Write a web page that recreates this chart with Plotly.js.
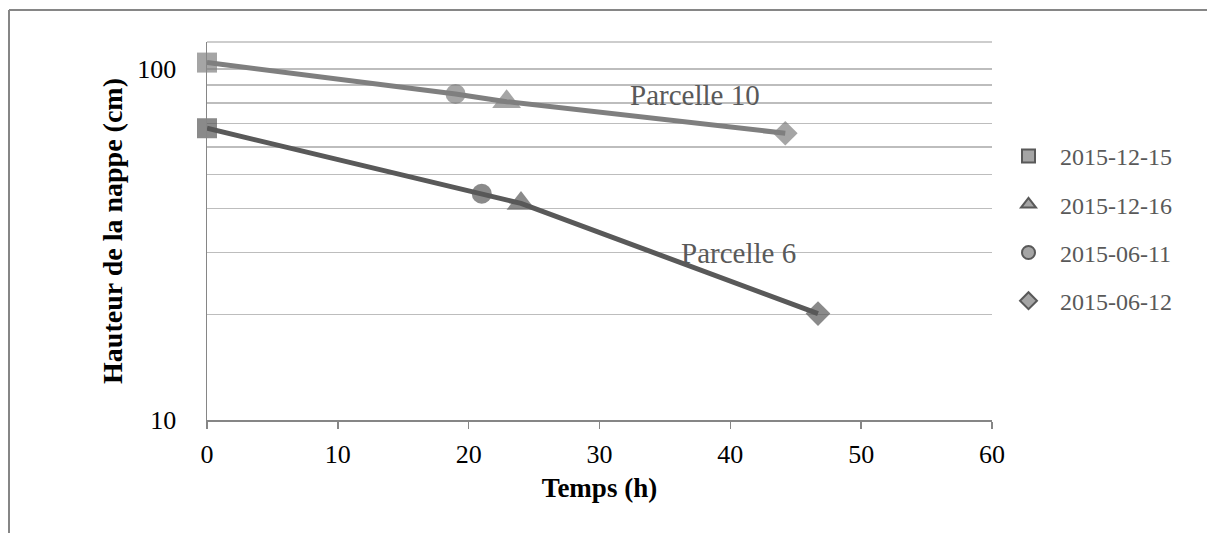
<!DOCTYPE html>
<html>
<head>
<meta charset="utf-8">
<script src="https://cdn.plot.ly/plotly-3.0.1.min.js"></script>
<style>
  html, body { margin: 0; padding: 0; background: #ffffff; }
  #chart { width: 1207px; height: 533px; }
</style>
</head>
<body>
<div id="chart"></div>
<script>
// ---- data ----
const dateLabels = ['2015-12-15', '2015-12-16', '2015-06-11', '2015-06-12'];
const dateSymbols = ['square', 'triangle-up', 'circle', 'diamond'];

// Parcelle 10 : points ordered by time
const hours10 = [0, 19.0, 22.9, 44.2];
const level10 = [104.3, 84.9, 80.7, 65.6];
const dates10 = ['2015-12-15', '2015-06-11', '2015-12-16', '2015-06-12'];

// Parcelle 6
const hours6 = [0, 21.0, 24.0, 46.7];
const level6 = [67.8, 44.1, 41.4, 20.1];
const dates6 = ['2015-12-15', '2015-06-11', '2015-12-16', '2015-06-12'];

const yGridVals = [10, 20, 30, 40, 50, 60, 70, 80, 90, 100];
const yGridText = ['10', '', '', '', '', '', '', '', '', '100'];
const xTickVals = [0, 10, 20, 30, 40, 50, 60];

// ---- styling ----
const col10 = '#7f7f7f';
const col6 = '#595959';
const symFor = d => dateSymbols[dateLabels.indexOf(d)];
const sizeFor = s => ({ 'square': 20, 'circle': 20, 'triangle-up': 25, 'diamond': 19 }[s]);

function lineTrace(name, xs, ys, ds, color) {
  const syms = ds.map(symFor);
  return {
    type: 'scatter', mode: 'lines+markers', name: name, cliponaxis: false,
    x: xs, y: ys, showlegend: false, hoverinfo: 'x+y',
    line: { color: color, width: 5 },
    marker: { symbol: syms, size: syms.map(sizeFor), color: color, line: { width: 0 } }
  };
}

const traces = [
  lineTrace('Parcelle 10', hours10, level10, dates10, col10),
  lineTrace('Parcelle 6', hours6, level6, dates6, col6)
];

dateLabels.forEach((d, i) => {
  traces.push({
    type: 'scatter', mode: 'markers', name: d,
    x: [null], y: [null], legendgroup: 'g' + i,
    marker: { symbol: dateSymbols[i], size: 13, color: '#a5a5a5', line: { color: '#595959', width: 2 } }
  });
});

const plotLeft = 207, plotRight = 992, plotTop = 42, plotBottom = 420;
const W = 1207, H = 533;
const px2x = p => (p - plotLeft) / (plotRight - plotLeft);
const px2y = p => (plotBottom - p) / (plotBottom - plotTop);

const layout = {
  width: W, height: H,
  margin: { l: plotLeft, r: W - plotRight, t: plotTop, b: H - plotBottom, pad: 0 },
  paper_bgcolor: '#ffffff', plot_bgcolor: '#ffffff',
  font: { family: 'Liberation Serif, serif', color: '#000000' },
  showlegend: true,
  legend: {
    x: px2x(997), xanchor: 'left', y: px2y(134), yanchor: 'top',
    font: { family: 'Liberation Serif, serif', size: 24, color: '#595959' },
    tracegroupgap: 14, bgcolor: 'rgba(0,0,0,0)', traceorder: 'grouped', itemwidth: 53
  },
  xaxis: {
    range: [0, 60], tickvals: xTickVals, ticks: 'outside', ticklen: 7, tickwidth: 1.5, tickcolor: '#868686',
    showline: true, linecolor: '#868686', linewidth: 1.5, showgrid: false, zeroline: false,
    tickfont: { family: 'Liberation Serif, serif', size: 26, color: '#000000' },
    ticklabelstandoff: 3,
    title: { text: 'Temps (h)', font: { family: 'Liberation Serif, serif', size: 27, color: '#000000', weight: 'bold' }, standoff: 10 },
    automargin: false, fixedrange: true
  },
  yaxis: {
    type: 'log', range: [1, 1 + (plotBottom - plotTop) / 351],
    tickvals: yGridVals, ticktext: yGridText, ticks: '',
    showline: true, linecolor: '#868686', linewidth: 1.5,
    showgrid: true, gridcolor: '#bdbdbd', gridwidth: 1.5, zeroline: false,
    tickfont: { family: 'Liberation Serif, serif', size: 26, color: '#000000' },
    ticklabelstandoff: 24,
    title: { text: 'Hauteur de la nappe (cm)', font: { family: 'Liberation Serif, serif', size: 28, color: '#000000', weight: 'bold' }, standoff: 6 },
    automargin: false, fixedrange: true
  },
  annotations: [
    { x: 37.3, y: Math.log10(84.3), xref: 'x', yref: 'y', text: 'Parcelle 10', showarrow: false,
      font: { family: 'Liberation Serif, serif', size: 29, color: '#595959' } },
    { x: 40.6, y: Math.log10(29.9), xref: 'x', yref: 'y', text: 'Parcelle 6', showarrow: false,
      font: { family: 'Liberation Serif, serif', size: 29, color: '#595959' } }
  ],
  shapes: [
    // top edge of plot area
    { type: 'line', xref: 'paper', yref: 'paper', x0: 0, x1: 1, y0: 1, y1: 1, line: { color: '#bdbdbd', width: 1.5 }, layer: 'below' },
    // outer chart frame (top and left)
    { type: 'line', xref: 'paper', yref: 'paper', x0: px2x(9), x1: px2x(1210), y0: px2y(10), y1: px2y(10), line: { color: '#868686', width: 2 } },
    { type: 'line', xref: 'paper', yref: 'paper', x0: px2x(9), x1: px2x(9), y0: px2y(10), y1: px2y(540), line: { color: '#868686', width: 2 } }
  ]
};

Plotly.newPlot('chart', traces, layout, { displayModeBar: false, staticPlot: true });
</script>
</body>
</html>
